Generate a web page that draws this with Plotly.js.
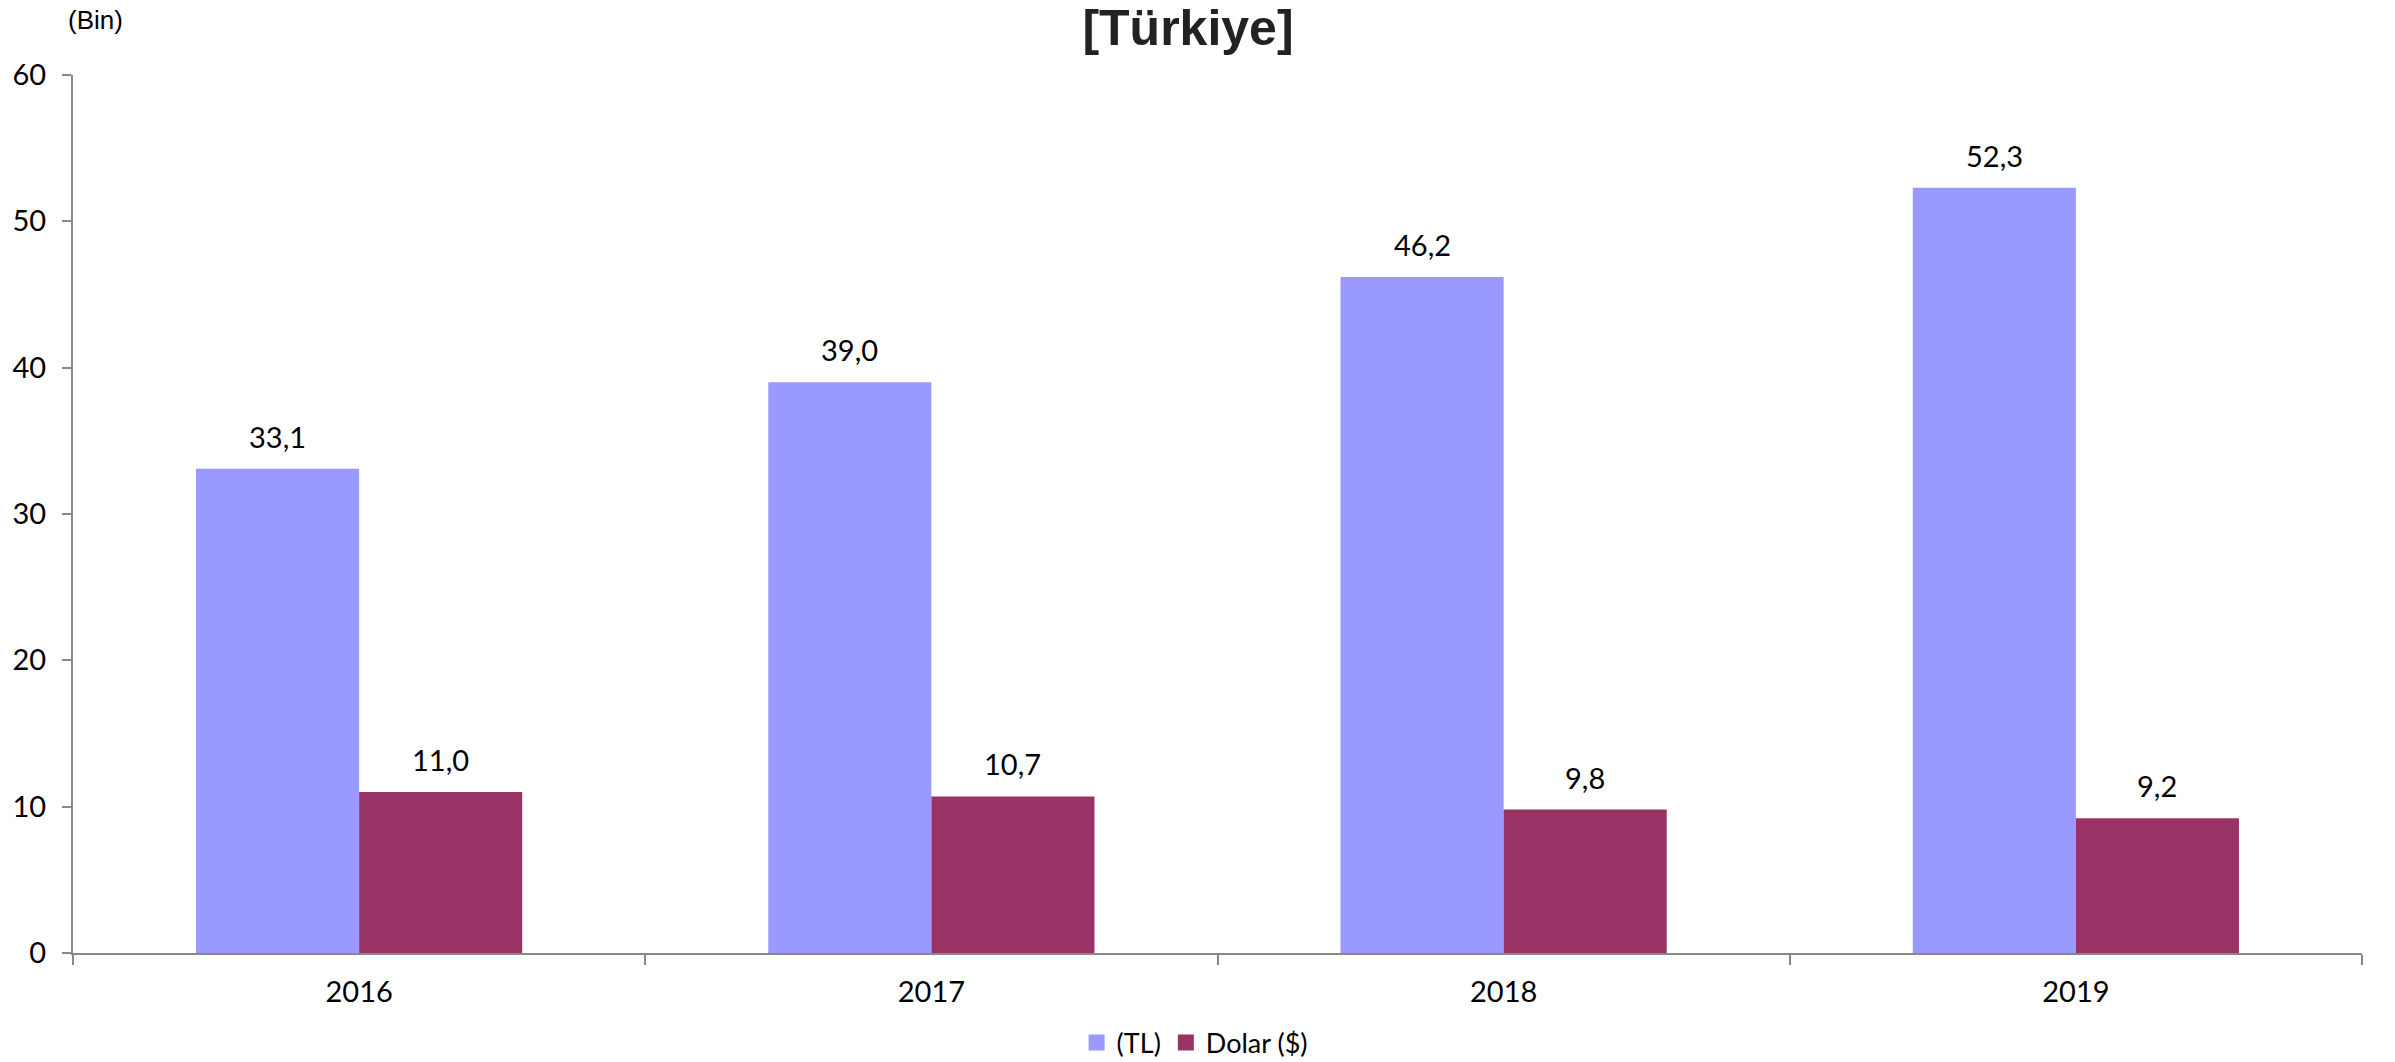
<!DOCTYPE html>
<html>
<head>
<meta charset="utf-8">
<script src="https://cdn.plot.ly/plotly-3.0.1.min.js"></script>
<style>
  html, body { margin: 0; padding: 0; background: #fff; }
  #chart { width: 2395px; height: 1062px; }
</style>
</head>
<body>
<div id="chart"></div>
<script>
// Years on the x axis
const years = ['2016', '2017', '2018', '2019'];
// Values in thousands
const tlValues = [33.1, 39.0, 46.2, 52.3];
const usdValues = [11.0, 10.7, 9.8, 9.2];
const seriesNames = ['(TL)', 'Dolar ($)'];
const seriesColors = ['#9999FF', '#993366'];
const yTicks = [0, 10, 20, 30, 40, 50, 60];

const fontFamily = 'Lato, "Open Sans", sans-serif';
const labelFont = { family: fontFamily, size: 29, color: '#000' };

const fmt = v => v.toFixed(1).replace('.', ',');

const traces = [
  {
    type: 'bar', name: seriesNames[0], x: years, y: tlValues,
    marker: { color: seriesColors[0] }, hoverinfo: 'skip', showlegend: false
  },
  {
    type: 'bar', name: seriesNames[1], x: years, y: usdValues,
    marker: { color: seriesColors[1] }, hoverinfo: 'skip', showlegend: false
  },
  // Legend entries with square swatches
  {
    type: 'scatter', mode: 'markers', name: seriesNames[0], x: [null], y: [null],
    marker: { symbol: 'square', size: 17, color: seriesColors[0] }, hoverinfo: 'skip'
  },
  {
    type: 'scatter', mode: 'markers', name: seriesNames[1], x: [null], y: [null],
    marker: { symbol: 'square', size: 17, color: seriesColors[1] }, hoverinfo: 'skip'
  }
];

// Value labels above each bar (grouped bars sit at category ± quarter of the group width)
const barHalfOffset = 0.1425;
const annotations = [];
[tlValues, usdValues].forEach((vals, s) => {
  vals.forEach((v, i) => {
    annotations.push({
      xref: 'x', yref: 'y',
      x: i + (s === 0 ? -barHalfOffset : barHalfOffset),
      y: v, text: fmt(v), showarrow: false,
      yanchor: 'bottom', yshift: 13, font: labelFont
    });
  });
});
// Unit note above the value axis
annotations.push({
  xref: 'paper', yref: 'paper', x: -0.003, y: 1.0626,
  xanchor: 'left', yanchor: 'middle', text: '(Bin)', showarrow: false,
  font: { family: '"Liberation Sans", Arial, sans-serif', size: 26, color: '#000' }
});

const layout = {
  width: 2395, height: 1062,
  margin: { l: 73, r: 33, t: 75, b: 109 },
  paper_bgcolor: '#fff', plot_bgcolor: '#fff',
  title: {
    text: '<b>[Türkiye]</b>',
    font: { family: '"Liberation Sans", Arial, sans-serif', size: 50, color: '#222' },
    x: 1188 / 2395, xref: 'container', xanchor: 'center',
    y: 1 - 27 / 1062, yref: 'container', yanchor: 'middle'
  },
  barmode: 'group',
  bargap: 0.43,
  bargroupgap: 0,
  showlegend: true,
  legend: {
    orientation: 'h', x: 0.49, xanchor: 'center',
    yref: 'container', y: (1062 - 1043) / 1062, yanchor: 'middle',
    font: { family: fontFamily, size: 27, color: '#000' },
    traceorder: 'normal', itemwidth: 30, tracegroupgap: 0
  },
  xaxis: {
    type: 'category', automargin: false,
    showline: true, linecolor: '#888', linewidth: 2,
    ticks: 'outside', tickson: 'boundaries', ticklen: 10, tickcolor: '#888', tickwidth: 2,
    ticklabelstandoff: 12,
    tickfont: { family: fontFamily, size: 29, color: '#000' },
    showgrid: false, zeroline: false, fixedrange: true
  },
  yaxis: {
    range: [0, 60], tickvals: yTicks, ticktext: yTicks.map(String), automargin: false,
    showline: true, linecolor: '#888', linewidth: 2,
    ticks: 'outside', ticklen: 9, tickcolor: '#888', tickwidth: 2,
    ticklabelstandoff: 10,
    tickfont: { family: fontFamily, size: 29, color: '#000' },
    showgrid: false, zeroline: false, fixedrange: true
  },
  annotations: annotations
};

Plotly.newPlot('chart', traces, layout, { displayModeBar: false, staticPlot: true });
</script>
</body>
</html>
